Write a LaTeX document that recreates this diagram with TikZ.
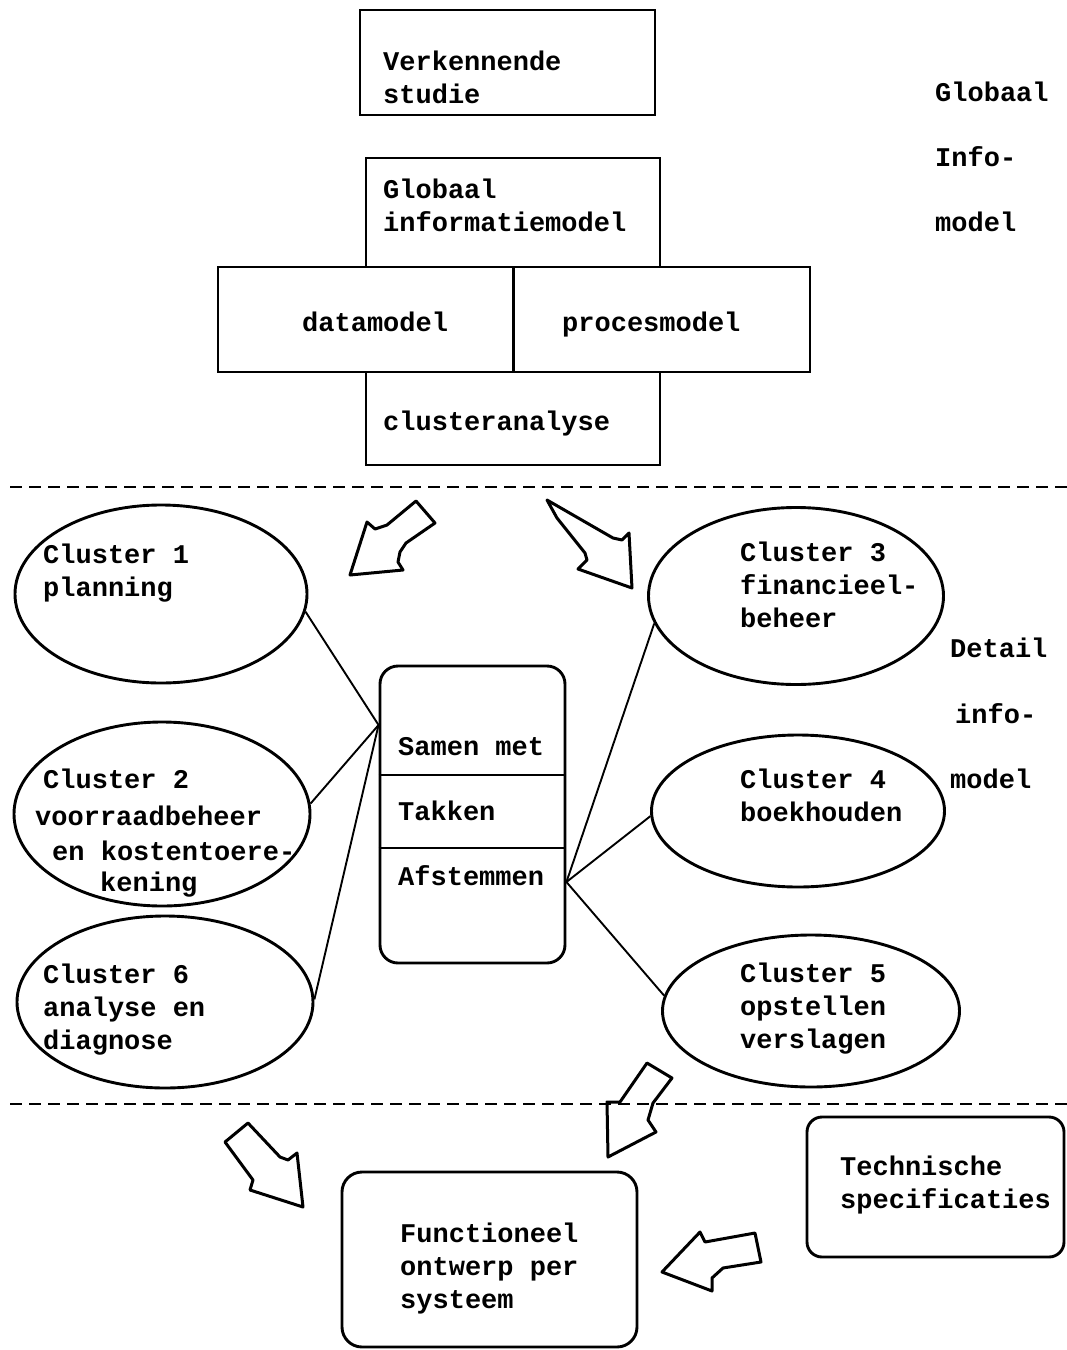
\documentclass[tikz,border=0pt]{standalone}
\usepackage{fontspec}
\newfontfamily\tw{Liberation Mono}
\usetikzlibrary{shapes.geometric}
\newcommand{\tl}[1]{\begin{tabular}[t]{@{}l@{}}#1\end{tabular}}
\begin{document}
\begin{tikzpicture}[x=1pt,y=-1pt,
  box/.style={draw, line width=2.9pt, rectangle, inner sep=0},
  rbox/.style={box, rounded corners=18pt},
  ell/.style={draw, ellipse, line width=2.9pt, inner sep=0},
  txt/.style={inner sep=0, anchor=base west, font=\tw\bfseries\fontsize{27}{33}\selectfont},
  conn/.style={line width=1.9pt},
  sep/.style={line width=2.5pt, dash pattern=on 12pt off 7pt},
  bigarrow/.style={line width=3pt, line join=round}]
\useasboundingbox (0,0) rectangle (1067,1350);

% top boxes
\node[box, minimum width=295pt, minimum height=105pt] (verk) at (507.5,62.5) {};
\node[box, minimum width=294pt, minimum height=109pt] (glob) at (513,212.5) {};
\node[box, minimum width=295pt, minimum height=105pt] (data) at (365.5,319.5) {};
\node[box, minimum width=296pt, minimum height=105pt] (proc) at (662,319.5) {};
\node[box, minimum width=294pt, minimum height=93pt] (clus) at (513,418.5) {};

\node[txt] (tverk) at (383,70) {\tl{Verkennende\\studie}};
\node[txt] (tglob) at (383,198) {\tl{Globaal\\informatiemodel}};
\node[txt] (tdata) at (302,331) {datamodel};
\node[txt] (tproc) at (562,331) {procesmodel};
\node[txt] (tclus) at (383,430) {clusteranalyse};

\node[txt] (gl1) at (935,101) {Globaal};
\node[txt] (gl2) at (935,166) {Info-};
\node[txt] (gl3) at (935,231) {model};

% separators
\draw[sep] (10,487) -- (1067,487);
\draw[sep] (10,1104) -- (1067,1104);

% ellipses
\node[ell, minimum width=292pt, minimum height=178pt] (c1) at (161,594) {};
\node[ell, minimum width=296pt, minimum height=184pt] (c2) at (162,814) {};
\node[ell, minimum width=296pt, minimum height=172pt] (c6) at (165,1002) {};
\node[ell, minimum width=295pt, minimum height=177pt] (c3) at (796,596) {};
\node[ell, minimum width=293pt, minimum height=152pt] (c4) at (798,811) {};
\node[ell, minimum width=297pt, minimum height=152pt] (c5) at (811,1011) {};

\node[txt] (tc1) at (43,563) {\tl{Cluster 1\\planning}};
\node[txt] (tc2a) at (43,788) {Cluster 2};
\node[txt] (tc2b) at (35,825) {voorraadbeheer};
\node[txt] (tc2c) at (52,860) {en kostentoere-};
\node[txt] (tc2d) at (100,891) {kening};
\node[txt] (tc6) at (43,983) {\tl{Cluster 6\\analyse en\\diagnose}};
\node[txt] (tc3) at (740,561) {\tl{Cluster 3\\financieel-\\beheer}};
\node[txt] (tc4) at (740,788) {\tl{Cluster 4\\boekhouden}};
\node[txt] (tc5) at (740,982) {\tl{Cluster 5\\opstellen\\verslagen}};

\node[txt] (dt1) at (950,657) {Detail};
\node[txt] (dt2) at (955,723) {info-};
\node[txt] (dt3) at (950,788) {model};

% center box
\node[rbox, minimum width=185pt, minimum height=297pt] (cb) at (472.5,814.5) {};
\draw[conn] (cb.west |- {(0,775)}) -- (cb.east |- {(0,775)});
\draw[conn] (cb.west |- {(0,848)}) -- (cb.east |- {(0,848)});
\node[txt] (s1) at (398,755) {Samen met};
\node[txt] (s2) at (398,820) {Takken};
\node[txt] (s3) at (398,885) {Afstemmen};

\coordinate (L) at (cb.west |- {(0,725)});
\coordinate (R) at (cb.east |- {(0,882)});
\draw[conn] (c1.-7) -- (L);
\draw[conn] (c2.4) -- (L);
\draw[conn] (c6.1) -- (L);
\draw[conn] (c3.191) -- (R);
\draw[conn] (c4.182) -- (R);
\draw[conn] (c5.174) -- (R);

% bottom boxes
\node[box, rounded corners=15pt, minimum width=257pt, minimum height=140pt] (tech) at (935.5,1187) {};
\node[txt] (ttech) at (840,1175) {\tl{Technische\\specificaties}};
\node[box, rounded corners=20pt, minimum width=295pt, minimum height=175pt] (func) at (489.5,1259.5) {};
\node[txt] (tfunc) at (400,1242) {\tl{Functioneel\\ontwerp per\\systeem}};

% hollow arrows
\draw[bigarrow] (416,501) -- (435,523) -- (406,543) -- (400,552) -- (398,562) -- (403,570) -- (350,575) -- (367,522) -- (375,529) -- (387,525) -- cycle;
\draw[bigarrow] (547,500) -- (557,518) -- (585,553) -- (587,560) -- (578,569) -- (632,588) -- (629,533) -- (622,540) -- (613,538) -- cycle;
\draw[bigarrow] (647,1063) -- (672,1078) -- (653,1103) -- (648,1120) -- (656,1132) -- (608,1157) -- (607,1102) -- (620,1102) -- cycle;
\draw[bigarrow] (248,1123) -- (225,1142) -- (253,1180) -- (250,1190) -- (303,1207) -- (297,1153) -- (288,1160) -- (280,1157) -- cycle;
\draw[bigarrow] (700,1232) -- (705,1242) -- (755,1233) -- (761,1262) -- (723,1268) -- (712,1278) -- (712,1291) -- (662,1272) -- cycle;
\end{tikzpicture}
\end{document}
